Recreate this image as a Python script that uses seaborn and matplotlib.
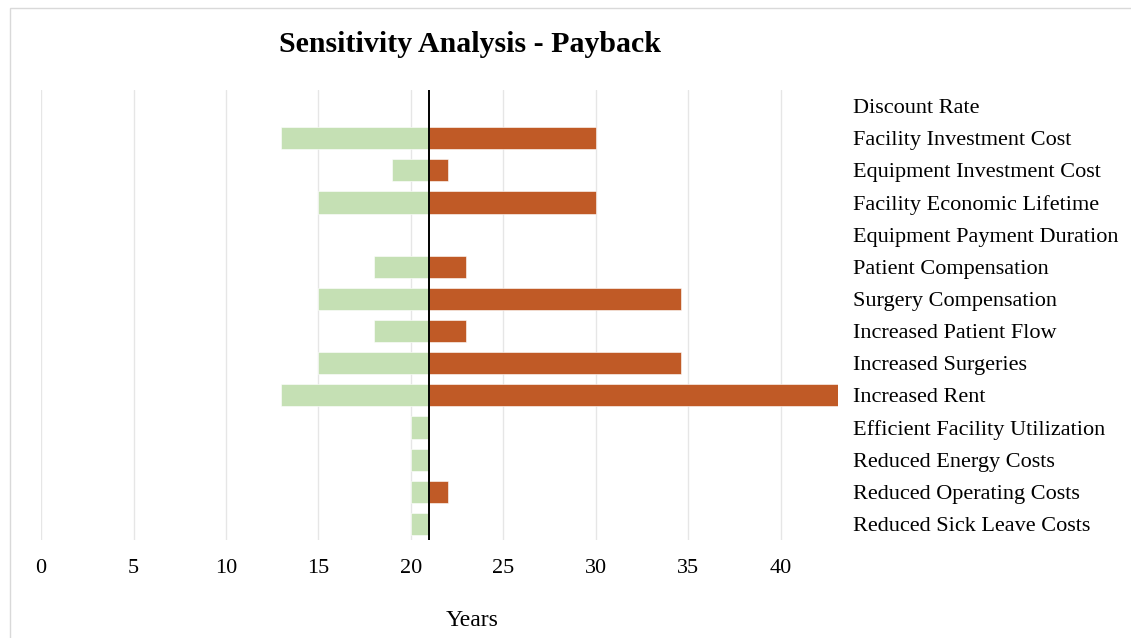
import numpy as np
import pandas as pd
import matplotlib
matplotlib.use("Agg")
import matplotlib.pyplot as plt
from matplotlib.patches import Rectangle
import seaborn as sns

# payback base case (years) and the low / high case for each parameter
BASE = 21
categories = ["Discount Rate", "Facility Investment Cost", "Equipment Investment Cost",
              "Facility Economic Lifetime", "Equipment Payment Duration", "Patient Compensation",
              "Surgery Compensation", "Increased Patient Flow", "Increased Surgeries",
              "Increased Rent", "Efficient Facility Utilization", "Reduced Energy Costs",
              "Reduced Operating Costs", "Reduced Sick Leave Costs"]
low_case = [np.nan, 13, 19, 15, np.nan, 18, 15, 18, 15, 13, 20, 20, 20, 20]
high_case = [np.nan, 30, 22, 30, np.nan, 23, 34.6, 23, 34.6, 43.1, np.nan, np.nan, 22, np.nan]
xtick_values = [0, 5, 10, 15, 20, 25, 30, 35, 40]

GREEN = "#C5E0B4"
ORANGE = "#C05A26"


def buildFrame():
    rows = []
    for cat, lo, hi in zip(categories, low_case, high_case):
        rows.append({"category": cat, "case": "low", "delta": lo - BASE})
        rows.append({"category": cat, "case": "high", "delta": hi - BASE})
    return pd.DataFrame(rows)


def main():
    sns.set_style("white")
    plt.rcParams["font.family"] = ["Liberation Serif", "DejaVu Serif"]
    plt.rcParams["text.color"] = "black"
    plt.rcParams["xtick.color"] = "black"
    plt.rcParams["ytick.color"] = "black"
    plt.rcParams["axes.labelcolor"] = "black"

    df = buildFrame()
    fig = plt.figure(figsize=(11.31, 6.38), dpi=100)
    ax = fig.add_axes([0.0363, 0.1536, 0.7047, 0.7054])

    sns.barplot(data=df, y="category", x="delta", hue="case", order=categories,
                hue_order=["low", "high"], palette=[GREEN, ORANGE], dodge=False,
                orient="h", width=0.69, legend=False, ax=ax, zorder=2,
                saturation=1, edgecolor="white", linewidth=0.4)

    ax.axvline(0, color="black", lw=1.4, zorder=3)

    # x axis shows years, bars are drawn as deviations from the base case
    ax.set_xlim(-BASE, 43.1 - BASE)
    ax.set_xticks([v - BASE for v in xtick_values])
    ax.xaxis.set_major_formatter(lambda v, p: f"{v + BASE:.0f}")
    ax.grid(axis="x", color="#e6e6e6", lw=1, zorder=0)
    ax.set_axisbelow(True)
    ax.tick_params(axis="x", length=0, pad=14, labelsize=16)

    ax.yaxis.tick_right()
    ax.tick_params(axis="y", length=0, pad=11, labelsize=16)
    ax.set_ylabel("")
    ax.set_xlabel("Years", fontsize=17)
    ax.xaxis.set_label_coords(0.541, -0.155)
    for s in ax.spines.values():
        s.set_visible(False)

    fig.text(0.4156, 0.93, "Sensitivity Analysis - Payback", ha="center", va="center",
             fontsize=21.5, fontweight="bold")
    fig.patches.append(Rectangle((0.009, -0.05), 1.05, 1.0375, transform=fig.transFigure,
                                 fill=False, edgecolor="#d9d9d9", lw=1))

    fig.savefig("out.png", dpi=100)


if __name__ == "__main__":
    main()
